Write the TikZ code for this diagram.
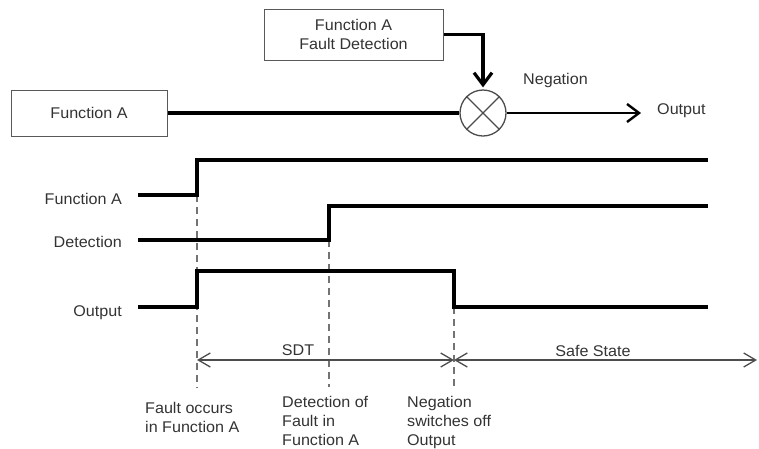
\documentclass[tikz,border=0pt]{standalone}
\usepackage{fontspec}
\setmainfont[FakeStretch=1.04]{Liberation Sans}
\usetikzlibrary{arrows.meta}
\begin{document}
\begin{tikzpicture}[x=1pt,y=-1pt,
  lbl/.style={text=black!80, font=\fontsize{15.5}{19}\selectfont, inner sep=0pt},
  blockbox/.style={lbl, draw=black!65, line width=1pt, fill=white, align=center},
  signal/.style={line width=3.2pt, line join=miter},
  guide/.style={draw=black!55, line width=1.3pt, dash pattern=on 7pt off 5pt},
  barb/.tip={Straight Barb[length=12pt,width=18pt]},
  smallbarb/.tip={Straight Barb[length=12pt,width=14pt]},
  span/.style={draw=black!70, line width=1.3pt, {smallbarb}-{smallbarb}},
]
\useasboundingbox (0,0) rectangle (759,448);

% ---- block diagram ----
\node[blockbox, minimum width=179pt, minimum height=51pt] (fd) at (353.5,34.5)
  {Function A\\Fault Detection};
\node[blockbox, minimum width=156pt, minimum height=46pt] (fa) at (89,113) {Function A};
\node[circle, draw=black!70, line width=1.3pt, minimum size=46pt, inner sep=0pt] (neg) at (483,113) {};
\draw[black!70, line width=1.3pt] (neg.45) -- (neg.225) (neg.135) -- (neg.315);
\coordinate (out) at (641,113);

\draw[line width=3.2pt] (fa.east) -- (neg.west);
\draw[line width=3.2pt, -{barb}, shorten >=2pt] (fd.east) -| (neg.north);
\draw[line width=2.4pt, -{barb}] (neg.east) -- (out);

\node[lbl, anchor=base west] (neglbl) at (523,84) {Negation};
\node[lbl, anchor=base west] (outlbl) at (657,114) {Output};

% ---- timing diagram ----
\node[lbl, anchor=base east] (sigA) at (122,204) {Function A};
\node[lbl, anchor=base east] (sigD) at (122,247) {Detection};
\node[lbl, anchor=base east] (sigO) at (122,316) {Output};

\coordinate (t0) at (197,360);
\coordinate (t2) at (454,360);
\coordinate (tend) at (757,360);

% guide lines at the three events
\draw[guide] (197,195) -- (197,388);
\draw[guide] (329,240) -- (329,387);
\draw[guide] (454,271) -- (454,387);

% signals
\draw[signal] (138,195) -- (197,195) -- (197,160) -- (708,160);
\draw[signal] (138,240) -- (329,240) -- (329,206) -- (708,206);
\draw[signal] (138,307) -- (197,307) -- (197,271) -- (454,271) -- (454,307) -- (708,307);

% time spans
\draw[span] (t0) -- (t2);
\draw[span] (t2) -- (tend);
\node[lbl, anchor=base] (sdt) at (298,355) {SDT};
\node[lbl, anchor=base] (safe) at (593,356) {Safe State};

% event captions
\node[lbl, anchor=base west] (e1a) at (145,413) {Fault occurs};
\node[lbl, anchor=base west] (e1b) at (145,432) {in Function A};
\node[lbl, anchor=base west] (e2a) at (282,407) {Detection of};
\node[lbl, anchor=base west] (e2b) at (282,426) {Fault in};
\node[lbl, anchor=base west] (e2c) at (282,445) {Function A};
\node[lbl, anchor=base west] (e3a) at (407,407) {Negation};
\node[lbl, anchor=base west] (e3b) at (407,426) {switches off};
\node[lbl, anchor=base west] (e3c) at (407,445) {Output};
\end{tikzpicture}
\end{document}
